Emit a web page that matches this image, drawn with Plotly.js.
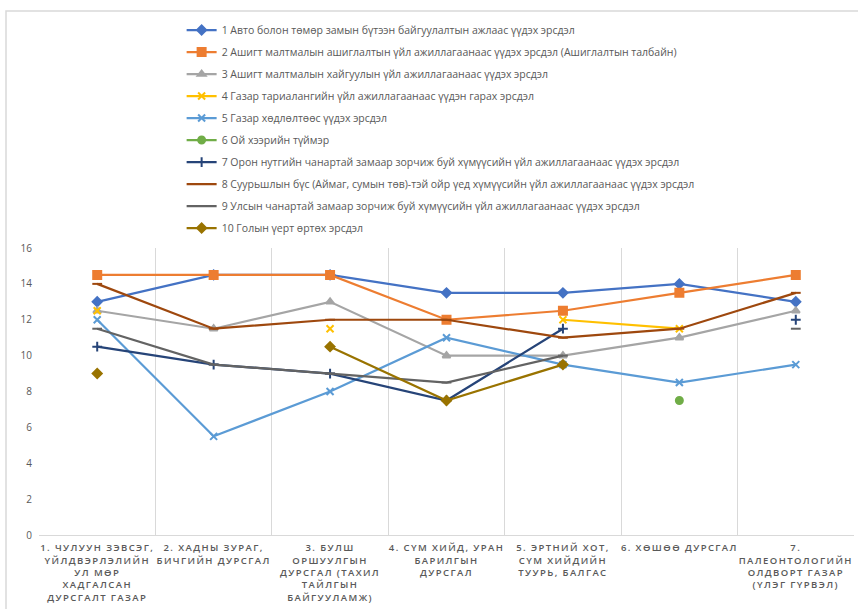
<!DOCTYPE html>
<html>
<head>
<meta charset="utf-8">
<script src="https://cdn.plot.ly/plotly-3.0.1.min.js"></script>
<style>
html,body{margin:0;padding:0;background:#fff;}
#chart{width:858px;height:609px;}
#chart .xtick text{letter-spacing:1.4px;}
</style>
</head>
<body>
<div id="chart"></div>
<script>
const categories = [
  "1. ЧУЛУУН ЗЭВСЭГ,<br>ҮЙЛДВЭРЛЭЛИЙН<br>УЛ МӨР<br>ХАДГАЛСАН<br>ДУРСГАЛТ ГАЗАР",
  "2. ХАДНЫ ЗУРАГ,<br>БИЧГИЙН ДУРСГАЛ",
  "3. БУЛШ<br>ОРШУУЛГЫН<br>ДУРСГАЛ (ТАХИЛ<br>ТАЙЛГЫН<br>БАЙГУУЛАМЖ)",
  "4. СҮМ ХИЙД, УРАН<br>БАРИЛГЫН<br>ДУРСГАЛ",
  "5. ЭРТНИЙ ХОТ,<br>СҮМ ХИЙДИЙН<br>ТУУРЬ, БАЛГАС",
  "6. ХӨШӨӨ ДУРСГАЛ",
  "7.<br>ПАЛЕОНТОЛОГИЙН<br>ОЛДВОРТ ГАЗАР<br>(ҮЛЭГ ГҮРВЭЛ)"
];
const seriesNames = [
  "1 Авто болон төмөр замын бүтээн байгуулалтын ажлаас үүдэх эрсдэл",
  "2 Ашигт малтмалын ашиглалтын үйл ажиллагаанаас үүдэх эрсдэл (Ашиглалтын талбайн)",
  "3 Ашигт малтмалын хайгуулын үйл ажиллагаанаас үүдэх эрсдэл",
  "4 Газар тариалангийн үйл ажиллагаанаас үүдэн гарах эрсдэл",
  "5 Газар хөдлөлтөөс үүдэх эрсдэл",
  "6 Ой хээрийн түймэр",
  "7 Орон нутгийн чанартай замаар зорчиж буй хүмүүсийн үйл ажиллагаанаас үүдэх эрсдэл",
  "8 Суурьшлын бүс (Аймаг, сумын төв)-тэй ойр үед хүмүүсийн үйл ажиллагаанаас үүдэх эрсдэл",
  "9 Улсын чанартай замаар зорчиж буй хүмүүсийн үйл ажиллагаанаас үүдэх эрсдэл",
  "10 Голын үерт өртөх эрсдэл"
];
const s1 = [13, 14.5, 14.5, 13.5, 13.5, 14, 13];
const s2 = [14.5, 14.5, 14.5, 12, 12.5, 13.5, 14.5];
const s3 = [12.5, 11.5, 13, 10, 10, 11, 12.5];
const s4 = [12.5, null, 11.5, null, 12, 11.5, null];
const s5 = [12, 5.5, 8, 11, 9.5, 8.5, 9.5];
const s6 = [null, null, null, null, null, 7.5, null];
const s7 = [10.5, 9.5, 9, 7.5, 11.5, null, 12];
const s8 = [14, 11.5, 12, 12, 11, 11.5, 13.5];
const s9 = [11.5, 9.5, 9, 8.5, 10, null, 11.5];
const s10 = [9, null, 10.5, 7.5, 9.5, null, null];
const yTicks = [0, 2, 4, 6, 8, 10, 12, 14, 16];

const values = [s1, s2, s3, s4, s5, s6, s7, s8, s9, s10];
const colors = ["#4472C4", "#ED7D31", "#A5A5A5", "#FFC000", "#5B9BD5", "#70AD47", "#264478", "#9E480E", "#636363", "#997300"];
const symbols = ["diamond", "square", "triangle-up", "x-thin-open", "x-thin-open", "circle", "cross-thin-open", "line-ew-open", "line-ew-open", "diamond"];
const sizes = [7, 8, 7, 7, 7, 7, 7, 7, 7, 7];

const traces = values.map((v, i) => ({
  type: "scatter",
  mode: "lines+markers",
  x: categories,
  y: v,
  name: seriesNames[i],
  legendgroup: "g" + i,
  line: {color: colors[i], width: 2.2},
  marker: {symbol: symbols[i], size: sizes[i], color: colors[i], line: {color: colors[i], width: 2}},
  connectgaps: false
}));

const layout = {
  width: 858, height: 609,
  margin: {l: 39, r: 4, t: 248, b: 74},
  paper_bgcolor: "#ffffff",
  plot_bgcolor: "#ffffff",
  font: {family: "Open Sans, sans-serif", color: "#595959", size: 10},
  showlegend: true,
  legend: {
    x: 0.175, y: 1.81, xanchor: "left", yanchor: "top",
    font: {size: 10.5, color: "#595959", family: "Open Sans, sans-serif"},
    bgcolor: "rgba(0,0,0,0)", itemwidth: 30,
    traceorder: "grouped", tracegroupgap: 3
  },
  xaxis: {
    type: "category",
    range: [-0.5, 6.5],
    tickson: "boundaries",
    showgrid: true, gridcolor: "#d9d9d9", gridwidth: 1,
    showline: true, linecolor: "#d9d9d9", linewidth: 1,
    ticks: "", tickangle: 0, ticklabelstandoff: 4,
    tickfont: {size: 9.5, color: "#595959", family: "Open Sans, sans-serif", weight: 600},
    fixedrange: true
  },
  yaxis: {
    range: [0, 16],
    tickvals: yTicks,
    showgrid: false, zeroline: false, showline: false,
    ticks: "", ticklabelstandoff: 6,
    tickfont: {size: 10, color: "#595959"},
    fixedrange: true
  },
  shapes: [{
    type: "rect", xref: "paper", yref: "paper",
    x0: -0.0405, x1: 1.01, y0: -0.27, y1: 1.826,
    line: {color: "#d9d9d9", width: 1.5}, fillcolor: "rgba(0,0,0,0)", layer: "below"
  }]
};

Plotly.newPlot("chart", traces, layout, {displayModeBar: false, staticPlot: true});
</script>
</body>
</html>
